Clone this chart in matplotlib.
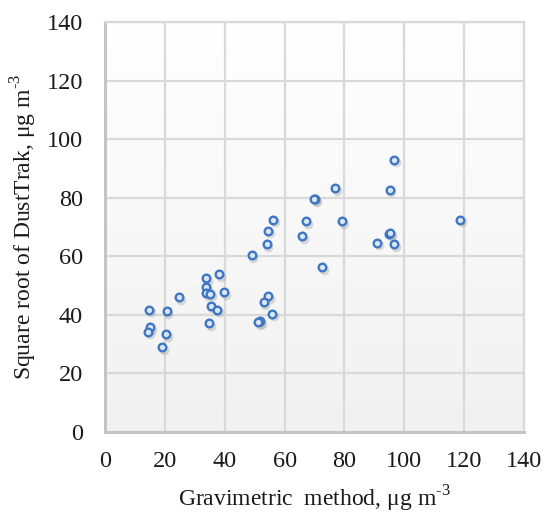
import numpy as np
import matplotlib
matplotlib.use("Agg")
import matplotlib.pyplot as plt

# Gravimetric method (x) vs square root of DustTrak (y), ug m-3
gravimetric = [14.7, 15.1, 14.3, 20.6, 20.3, 19.1, 24.7, 33.8, 33.8, 33.7,
               35.0, 38.0, 39.8, 35.3, 37.5, 34.7, 49.0, 56.2, 54.5, 54.0,
               54.4, 53.0, 55.8, 51.7, 51.1, 65.8, 67.2, 70.2, 69.8, 76.8,
               79.1, 72.6, 90.9, 94.8, 95.2, 96.5, 95.1, 96.5, 118.7]
dusttrak = [41.7, 35.7, 34.2, 41.2, 33.4, 28.9, 46.0, 52.5, 49.4, 47.4,
            47.2, 53.8, 47.8, 43.1, 41.7, 37.1, 60.3, 72.5, 68.7, 64.1,
            46.4, 44.4, 40.4, 37.9, 37.5, 66.9, 72.0, 79.4, 79.7, 83.2,
            72.0, 56.2, 64.6, 67.7, 68.1, 64.1, 82.7, 93.0, 72.5]

ticks = [0, 20, 40, 60, 80, 100, 120, 140]

plt.rcParams['font.family'] = ['Liberation Serif', 'DejaVu Serif']
plt.rcParams['mathtext.fontset'] = 'custom'
plt.rcParams['mathtext.rm'] = 'Liberation Serif'

fig = plt.figure(figsize=(5.45, 5.15), dpi=100)
ax = fig.add_axes([0.1927, 0.1612, 0.7688, 0.7961])

# plot area gradient: white at top, light grey at bottom
grad = np.linspace(0, 1, 256).reshape(-1, 1)
ax.imshow(grad, extent=[0, 1, 0, 1], transform=ax.transAxes,
          cmap=matplotlib.colors.LinearSegmentedColormap.from_list(
              'bg', ['#f1f1f1', '#ffffff']),
          origin='lower', aspect='auto', zorder=0)

ax.set_xlim(0, 140)
ax.set_ylim(0, 140)
ax.set_xticks(ticks)
ax.set_yticks(ticks)
ax.grid(True, color='#d9d9d9', linewidth=1.6, zorder=1)
ax.set_axisbelow(True)

for side in ['top', 'right']:
    ax.spines[side].set_color('#d9d9d9')
    ax.spines[side].set_linewidth(1.6)
for side in ['left', 'bottom']:
    ax.spines[side].set_color('#c4c4c4')
    ax.spines[side].set_linewidth(2.2)

ax.tick_params(length=0, labelsize=17.5, colors='#1a1a1a')
ax.tick_params(axis='x', pad=14)
ax.tick_params(axis='y', pad=16)

# soft shadow under markers
ax.plot(np.array(gravimetric) + 0.6, np.array(dusttrak) - 0.9, 'o',
        markersize=7, color='#9a9a9a', alpha=0.35, markeredgewidth=0, zorder=2)
ax.plot(gravimetric, dusttrak, 'o', markersize=5.5, markerfacecolor='#dbe5f3',
        markeredgecolor='#3f77c4', markeredgewidth=1.7, zorder=3)

ax.set_xlabel(r'Gravimetric  method, μg m$^{\text{-3}}$', fontsize=17, labelpad=8,
              color='#1a1a1a')
ax.set_ylabel(r'Square root of DustTrak, μg m$^{\text{-3}}$', fontsize=17, labelpad=5,
              color='#1a1a1a')

fig.savefig('out.png', dpi=100)
